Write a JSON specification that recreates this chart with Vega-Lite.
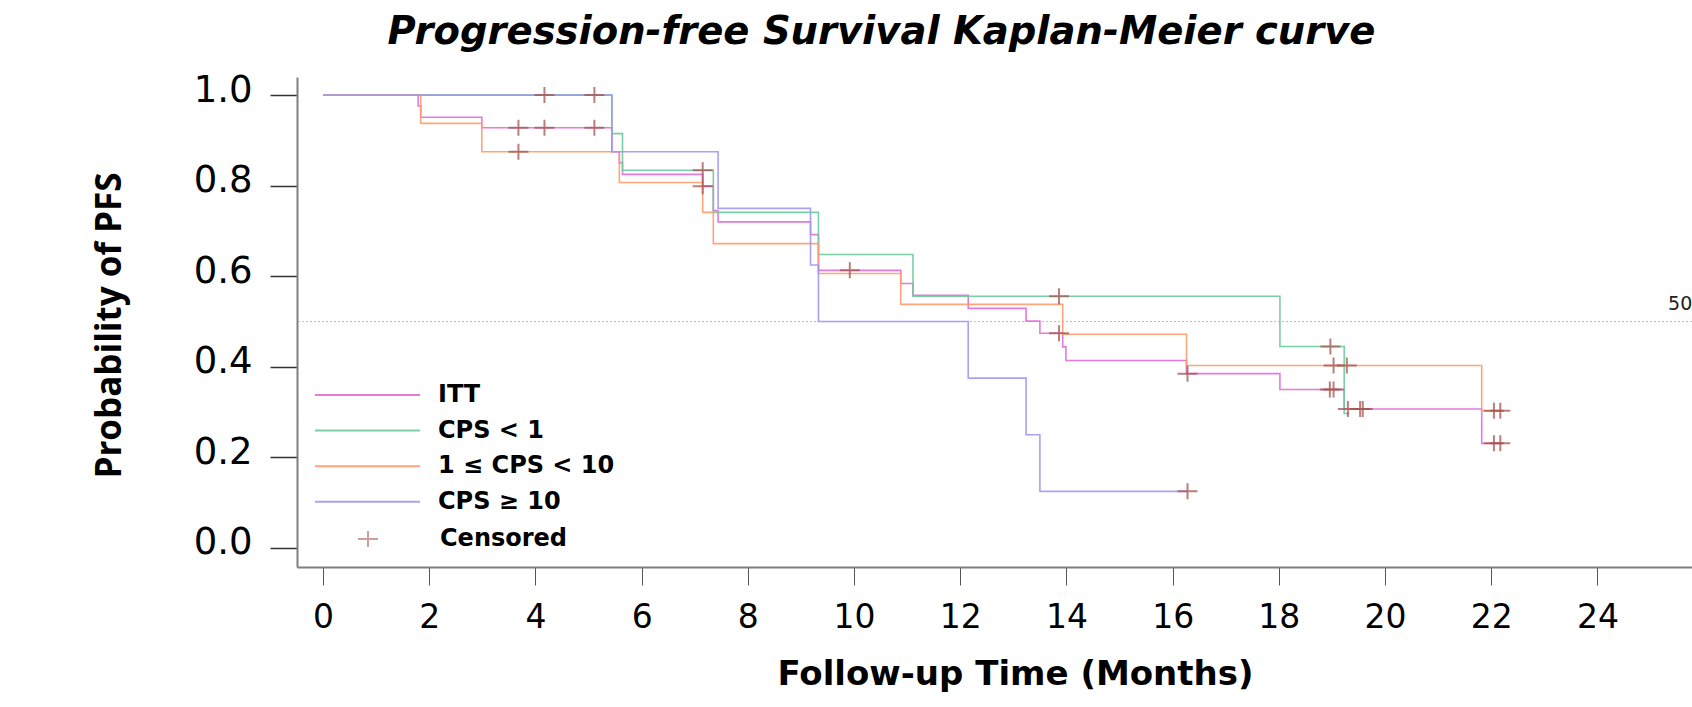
{
  "$schema": "https://vega.github.io/schema/vega-lite/v6.json",
  "width": 1395,
  "height": 490,
  "autosize": {"type": "none"},
  "padding": {"left": 297, "top": 77, "right": 0, "bottom": 140},
  "background": "white",
  "title": {
    "text": "Progression-free Survival Kaplan-Meier curve",
    "font": "DejaVu Sans",
    "fontSize": 38.5,
    "fontWeight": "bold",
    "fontStyle": "italic",
    "color": "#000000",
    "anchor": "middle",
    "frame": "group",
    "dx": -113,
    "dy": 41,
    "offset": 30,
    "baseline": "alphabetic"
  },
  "config": {
    "view": {"stroke": null},
    "axisX": {
      "domainColor": "#7f7f7f", "domainWidth": 2, "tickColor": "#555555", "tickWidth": 1, "tickSize": 18,
      "tickCount": 13, "grid": false,
      "labelFont": "DejaVu Sans", "labelFontSize": 33, "labelColor": "#000000", "labelPadding": 16,
      "titleFont": "DejaVu Sans", "titleFontSize": 34, "titleFontWeight": "bold", "titleColor": "#000000",
      "titleX": 718, "titleY": 117, "titleBaseline": "alphabetic", "titleAlign": "center"
    },
    "axisY": {
      "domainColor": "#7f7f7f", "domainWidth": 2, "tickColor": "#333333", "tickWidth": 1.5, "tickSize": 27,
      "tickCount": 6, "grid": false,
      "labelFont": "DejaVu Sans", "labelFontSize": 37, "labelColor": "#000000", "labelPadding": 18, "labelOffset": -5,
      "titleFont": "Open Sans", "titleFontSize": 35, "titleFontWeight": "bold", "titleColor": "#000000",
      "titleX": -177, "titleY": 248, "titleBaseline": "alphabetic", "titleAngle": -90, "titleAlign": "center"
    }
  },
  "datasets": {
    "reference": [
      {"level": 0.5, "label": "50%"}
    ],
    "curves": [
      {"series": "ITT", "t": 0, "s": 1.0},
      {"series": "ITT", "t": 1.79, "s": 0.976},
      {"series": "ITT", "t": 1.84, "s": 0.951},
      {"series": "ITT", "t": 2.99, "s": 0.928},
      {"series": "ITT", "t": 5.44, "s": 0.875},
      {"series": "ITT", "t": 5.58, "s": 0.851},
      {"series": "ITT", "t": 5.64, "s": 0.825},
      {"series": "ITT", "t": 7.15, "s": 0.799},
      {"series": "ITT", "t": 7.35, "s": 0.745},
      {"series": "ITT", "t": 7.44, "s": 0.72},
      {"series": "ITT", "t": 9.18, "s": 0.692},
      {"series": "ITT", "t": 9.33, "s": 0.613},
      {"series": "ITT", "t": 10.88, "s": 0.584},
      {"series": "ITT", "t": 11.11, "s": 0.558},
      {"series": "ITT", "t": 12.15, "s": 0.529},
      {"series": "ITT", "t": 13.24, "s": 0.501},
      {"series": "ITT", "t": 13.5, "s": 0.474},
      {"series": "ITT", "t": 13.93, "s": 0.444},
      {"series": "ITT", "t": 13.99, "s": 0.414},
      {"series": "ITT", "t": 16.26, "s": 0.385},
      {"series": "ITT", "t": 18.02, "s": 0.35},
      {"series": "ITT", "t": 19.23, "s": 0.307},
      {"series": "ITT", "t": 21.82, "s": 0.231},
      {"series": "ITT", "t": 22.2, "s": 0.231},
      {"series": "CPS < 1", "t": 0, "s": 1.0},
      {"series": "CPS < 1", "t": 5.44, "s": 0.915},
      {"series": "CPS < 1", "t": 5.64, "s": 0.834},
      {"series": "CPS < 1", "t": 7.35, "s": 0.741},
      {"series": "CPS < 1", "t": 9.33, "s": 0.648},
      {"series": "CPS < 1", "t": 11.11, "s": 0.556},
      {"series": "CPS < 1", "t": 18.02, "s": 0.445},
      {"series": "CPS < 1", "t": 19.23, "s": 0.297},
      {"series": "CPS < 1", "t": 19.33, "s": 0.297},
      {"series": "1 ≤ CPS < 10", "t": 0, "s": 1.0},
      {"series": "1 ≤ CPS < 10", "t": 1.84, "s": 0.9375},
      {"series": "1 ≤ CPS < 10", "t": 2.99, "s": 0.875},
      {"series": "1 ≤ CPS < 10", "t": 5.58, "s": 0.807},
      {"series": "1 ≤ CPS < 10", "t": 7.15, "s": 0.741},
      {"series": "1 ≤ CPS < 10", "t": 7.35, "s": 0.672},
      {"series": "1 ≤ CPS < 10", "t": 9.33, "s": 0.606},
      {"series": "1 ≤ CPS < 10", "t": 10.88, "s": 0.538},
      {"series": "1 ≤ CPS < 10", "t": 13.93, "s": 0.472},
      {"series": "1 ≤ CPS < 10", "t": 16.26, "s": 0.403},
      {"series": "1 ≤ CPS < 10", "t": 21.82, "s": 0.303},
      {"series": "1 ≤ CPS < 10", "t": 22.2, "s": 0.303},
      {"series": "CPS ≥ 10", "t": 0, "s": 1.0},
      {"series": "CPS ≥ 10", "t": 5.44, "s": 0.875},
      {"series": "CPS ≥ 10", "t": 7.44, "s": 0.75},
      {"series": "CPS ≥ 10", "t": 9.18, "s": 0.625},
      {"series": "CPS ≥ 10", "t": 9.33, "s": 0.5},
      {"series": "CPS ≥ 10", "t": 12.15, "s": 0.375},
      {"series": "CPS ≥ 10", "t": 13.24, "s": 0.25},
      {"series": "CPS ≥ 10", "t": 13.5, "s": 0.125},
      {"series": "CPS ≥ 10", "t": 16.28, "s": 0.125}
    ],
    "censored": [
      {"series": "Censored", "t": 3.68, "s": 0.928},
      {"series": "Censored", "t": 4.17, "s": 0.928},
      {"series": "Censored", "t": 5.11, "s": 0.928},
      {"series": "Censored", "t": 4.17, "s": 1.0},
      {"series": "Censored", "t": 5.11, "s": 1.0},
      {"series": "Censored", "t": 3.68, "s": 0.875},
      {"series": "Censored", "t": 7.15, "s": 0.834},
      {"series": "Censored", "t": 7.15, "s": 0.799},
      {"series": "Censored", "t": 9.92, "s": 0.613},
      {"series": "Censored", "t": 13.86, "s": 0.556},
      {"series": "Censored", "t": 13.86, "s": 0.474},
      {"series": "Censored", "t": 16.28, "s": 0.385},
      {"series": "Censored", "t": 16.28, "s": 0.125},
      {"series": "Censored", "t": 18.97, "s": 0.445},
      {"series": "Censored", "t": 18.96, "s": 0.35},
      {"series": "Censored", "t": 19.03, "s": 0.35},
      {"series": "Censored", "t": 19.03, "s": 0.403},
      {"series": "Censored", "t": 19.28, "s": 0.403},
      {"series": "Censored", "t": 19.3, "s": 0.307},
      {"series": "Censored", "t": 19.53, "s": 0.307},
      {"series": "Censored", "t": 19.58, "s": 0.307},
      {"series": "Censored", "t": 22.05, "s": 0.303},
      {"series": "Censored", "t": 22.17, "s": 0.303},
      {"series": "Censored", "t": 22.05, "s": 0.231},
      {"series": "Censored", "t": 22.17, "s": 0.231}
    ]
  },
  "layer": [
    {
      "data": {"name": "reference"},
      "mark": {"type": "rule", "strokeDash": [2, 2], "color": "#bdbdbd", "strokeWidth": 1},
      "encoding": {
        "y": {"field": "level", "type": "quantitative", "scale": {"domain": [-0.042, 1.04], "nice": false, "zero": false}, "title": "Probability of PFS"}
      }
    },
    {
      "data": {"name": "curves"},
      "mark": {"type": "line", "interpolate": "step-after", "strokeWidth": 1.6, "opacity": 0.9},
      "encoding": {
        "x": {"field": "t", "type": "quantitative", "scale": {"domain": [-0.49, 25.78], "nice": false, "zero": false}, "title": "Follow-up Time (Months)"},
        "y": {"field": "s", "type": "quantitative", "scale": {"domain": [-0.042, 1.04], "nice": false, "zero": false}, "title": "Probability of PFS"},
        "color": {
          "field": "series", "type": "nominal",
          "scale": {
            "domain": ["ITT", "CPS < 1", "1 ≤ CPS < 10", "CPS ≥ 10"],
            "range": ["#e26cd9", "#6ccb9c", "#ff9b6b", "#9f97f3"]
          },
          "legend": {
            "orient": "none", "legendX": 17, "legendY": 303, "padding": 0, "title": null,
            "symbolType": "stroke", "symbolSize": 11025, "symbolStrokeWidth": 2,
            "clipHeight": 30, "rowPadding": 5.6, "labelOffset": 17,
            "labelFont": "DejaVu Sans", "labelFontWeight": "bold", "labelFontSize": 24, "labelColor": "#000000",
            "labelLimit": 400
          }
        }
      }
    },
    {
      "data": {"name": "censored"},
      "mark": {"type": "point", "shape": "M-1,0H1M0,-0.8V0.8", "size": 400, "filled": false, "strokeWidth": 2, "opacity": 0.75},
      "encoding": {
        "x": {"field": "t", "type": "quantitative", "scale": {"domain": [-0.49, 25.78], "nice": false, "zero": false}, "title": "Follow-up Time (Months)"},
        "y": {"field": "s", "type": "quantitative", "scale": {"domain": [-0.042, 1.04], "nice": false, "zero": false}, "title": "Probability of PFS"},
        "stroke": {
          "field": "series", "type": "nominal",
          "scale": {"domain": ["Censored"], "range": ["#a5544e"]},
          "legend": {
            "orient": "none", "legendX": 59, "legendY": 447, "padding": 0, "title": null,
            "symbolType": "M-1,0H1M0,-0.8V0.8", "symbolSize": 400, "symbolStrokeWidth": 2, "symbolOpacity": 0.55,
            "symbolFillColor": "transparent",
            "clipHeight": 30, "labelOffset": 60,
            "labelFont": "DejaVu Sans", "labelFontWeight": "bold", "labelFontSize": 24, "labelColor": "#000000",
            "labelLimit": 400
          }
        }
      }
    },
    {
      "data": {"name": "reference"},
      "mark": {"type": "text", "align": "left", "baseline": "alphabetic", "dy": -11.5, "font": "DejaVu Sans", "fontSize": 19, "color": "#222222"},
      "encoding": {
        "x": {"datum": 25.33, "type": "quantitative", "scale": {"domain": [-0.49, 25.78], "nice": false, "zero": false}, "title": "Follow-up Time (Months)"},
        "y": {"field": "level", "type": "quantitative", "scale": {"domain": [-0.042, 1.04], "nice": false, "zero": false}, "title": "Probability of PFS"},
        "text": {"field": "label"}
      }
    }
  ]
}
